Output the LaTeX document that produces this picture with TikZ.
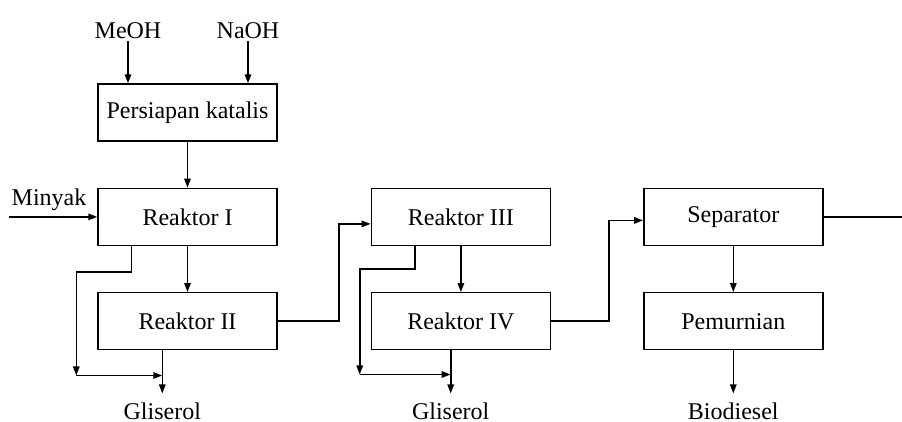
\documentclass[tikz,border=0pt]{standalone}
\usepackage{fontspec}
\setmainfont{Liberation Serif}
\usetikzlibrary{arrows.meta, positioning}

\begin{document}
\begin{tikzpicture}[
    box/.style={rectangle, draw, line width=0.7pt, minimum width=89.5pt, minimum height=28.5pt, align=center, font=\fontsize{12}{14}\selectfont},
    lbl/.style={inner sep=1pt, font=\fontsize{12}{14}\selectfont},
    arrow/.style={-{Triangle[length=4.5pt, width=3.2pt]}, line width=0.8pt},
    line/.style={line width=0.8pt},
    node distance=23pt and 46.5pt
]
    \useasboundingbox (0,0) rectangle (451pt,-211pt);
    \node[box] (kat) at (93.75pt,-56.25pt) {Persiapan katalis};
    \node[box, below=of kat] (r1) {Reaktor I};
    \node[box, below=of r1] (r2) {Reaktor II};
    \node[box, right=of r1] (r3) {Reaktor III};
    \node[box, below=of r3] (r4) {Reaktor IV};
    \node[box, right=46pt of r3] (sep) {Separator};
    \node[box, below=of sep] (pem) {Pemurnian};

    % umpan
    \node[lbl, anchor=south] (meoh) at ([xshift=-29.75pt, yshift=21pt]kat.north) {MeOH};
    \node[lbl, anchor=south] (naoh) at ([xshift=30.25pt, yshift=21pt]kat.north) {NaOH};
    \coordinate (oilin) at ([xshift=-44pt]r1.west);
    \node[lbl, anchor=base west] (minyak) at ([yshift=5.5pt]oilin) {Minyak};

    % produk
    \node[lbl, anchor=north] (gli1) at ([xshift=32.5pt, yshift=-25pt]r2.south west) {Gliserol};
    \node[lbl, anchor=north] (gli2) at ([xshift=40pt, yshift=-25pt]r4.south west) {Gliserol};
    \node[lbl, anchor=north] (bio) at ([yshift=-25pt]pem.south) {Biodiesel};
    \coordinate (prod) at ([xshift=40.5pt]sep.east);
    \coordinate (byp1) at ([xshift=-10.5pt, yshift=-12.5pt]r2.south west);
    \coordinate (byp2) at ([xshift=-5.5pt, yshift=-12pt]r4.south west);

    \draw[arrow] (meoh) -- (meoh |- kat.north);
    \draw[arrow] (naoh) -- (naoh |- kat.north);
    \draw[arrow] (kat) -- (r1);
    \draw[arrow] (oilin) -- (r1.west);
    \draw[arrow] (r1) -- (r2);
    \draw[arrow] ([xshift=17pt]r1.south west) -- ++(0,-13pt) -| (byp1);
    \draw[arrow] (byp1) -- (byp1 -| gli1.north);
    \draw[arrow] (gli1.north |- r2.south) -- ([yshift=3.5pt]gli1.north);
    \draw[arrow] (r2.east) -- ++(30.5pt,0) |- ([yshift=-3.5pt]r3.west);
    \draw[arrow] (r3) -- (r4);
    \draw[arrow] ([xshift=22pt]r3.south west) -- ++(0,-11.5pt) -| (byp2);
    \draw[arrow] (byp2) -- (byp2 -| gli2.north);
    \draw[arrow] (gli2.north |- r4.south) -- ([yshift=3.5pt]gli2.north);
    \draw[arrow] (r4.east) -- ++(29pt,0) |- ([yshift=-1.75pt]sep.west);
    \draw[arrow] (sep) -- (pem);
    \draw[arrow] (pem) -- ([yshift=3.5pt]bio.north);
    \draw[line] (sep.east) -- (prod);
\end{tikzpicture}
\end{document}
